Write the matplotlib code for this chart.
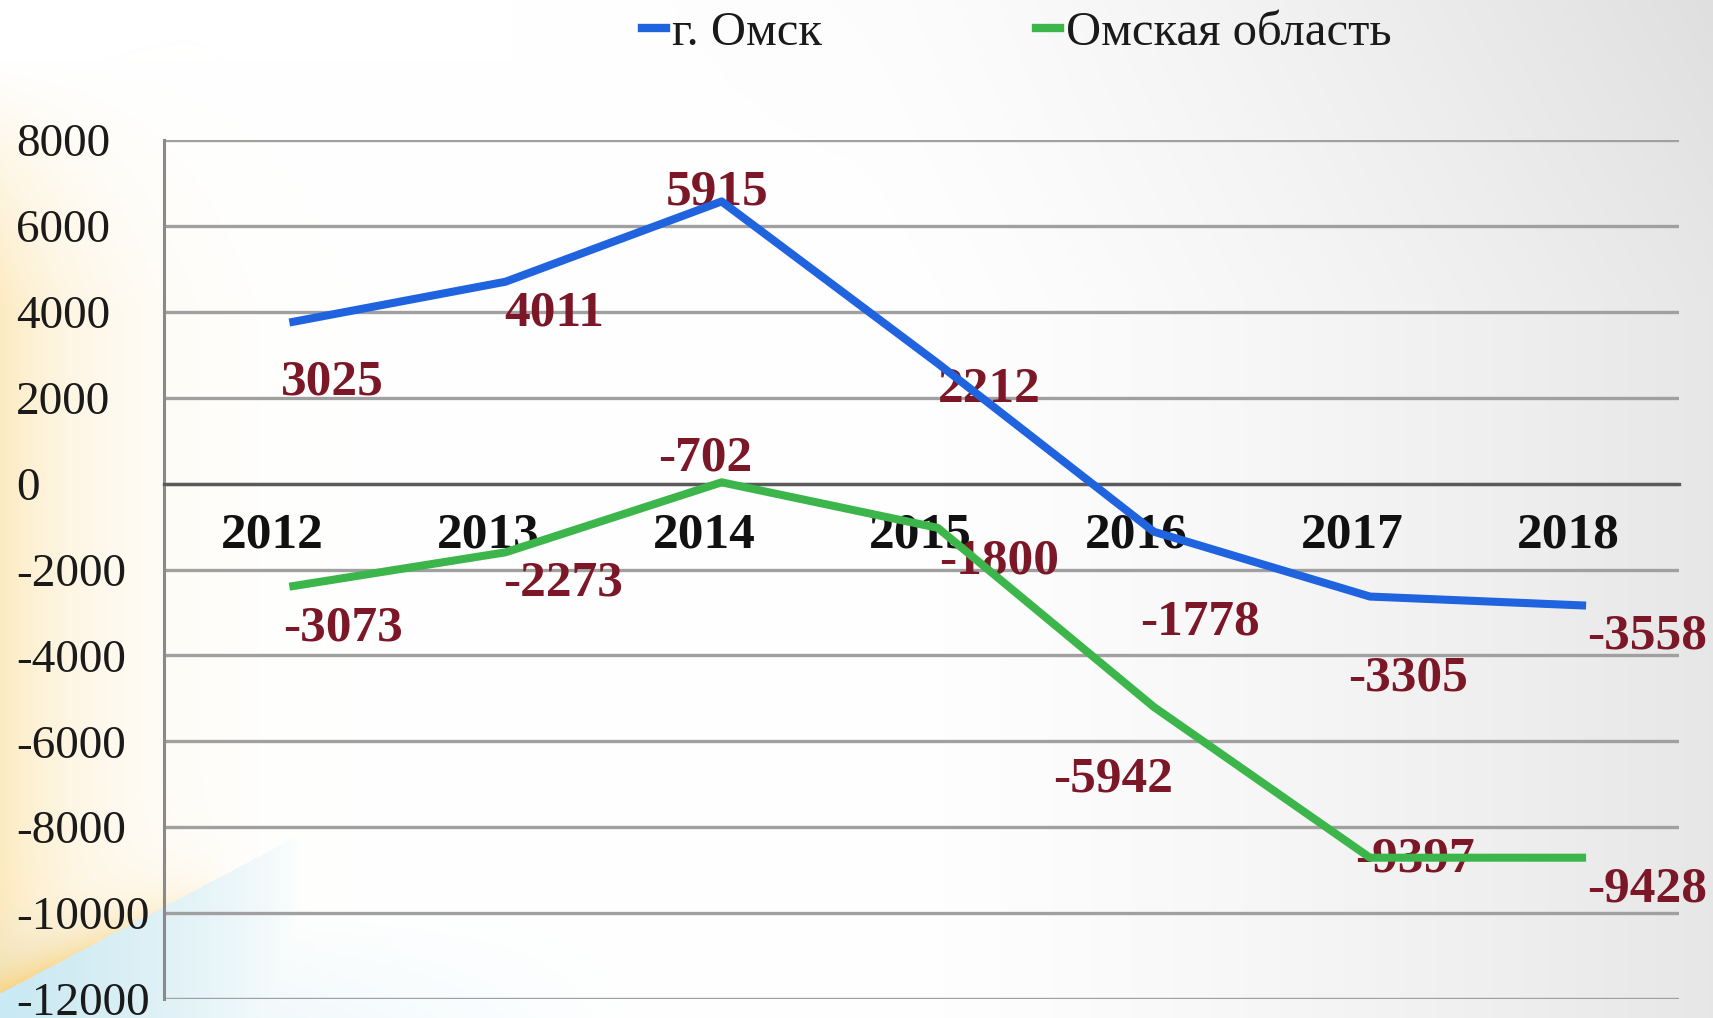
import numpy as np
import matplotlib
matplotlib.use('Agg')
import matplotlib.pyplot as plt
from matplotlib.lines import Line2D
import matplotlib.transforms as mtransforms

plt.rcParams['font.family'] = ['Liberation Serif', 'DejaVu Serif']
plt.rcParams['axes.unicode_minus'] = False

# ---------------- data ----------------
years = ['2012', '2013', '2014', '2015', '2016', '2017', '2018']
series_names = ['г. Омск', 'Омская область']
# plotted line values (as drawn in the picture)
omsk_line = [3750, 4700, 6570, 2800, -1120, -2630, -2840]
oblast_line = [-2400, -1600, 30, -1030, -5200, -8710, -8710]
# data label texts (as printed in the picture)
omsk_labels = ['3025', '4011', '5915', '2212', '-1778', '-3305', '-3558']
oblast_labels = ['-3073', '-2273', '-702', '-1800', '-5942', '-9397', '-9428']
y_ticks = [8000, 6000, 4000, 2000, 0, -2000, -4000, -6000, -8000, -10000, -12000]

# ---------------- layout / style ----------------
W, H, DPI = 1713, 1018, 100
BLUE = '#1f63de'
GREEN = '#3cb64b'
LABEL_RED = '#7b1726'
omsk_offsets = [(30.7, -43.0), (35.4, -22.8), (-3.1, 6.3), (37.0, -18.9),
                (33.0, -65.3), (27.5, -59.0), (44.0, -22.0)]
oblast_offsets = [(38.5, -30.3), (41.7, -22.8), (-11.8, 17.3), (44.0, -24.4),
                  (-29.1, -51.9), (32.3, -1.6), (44.0, -22.8)]

fig = plt.figure(figsize=(W / DPI, H / DPI), dpi=DPI)

# ---------------- decorative background ----------------
yy, xx = np.mgrid[0:H, 0:W].astype(float)
img = np.ones((H, W, 3))
# light grey towards the right
g = 1 - 0.095 * np.clip((xx - 0.5 * W) / (0.5 * W), 0, 1) ** 1.4
g -= 0.03 * np.clip(1 - yy / 300, 0, 1) * np.clip((xx - 0.3 * W) / (0.7 * W), 0, 1)
img *= g[..., None]
# warm glow on the left
warm = np.array([252, 226, 168]) / 255
vf = np.clip((yy - 60) / 250, 0, 1)
a_w = 0.72 * np.exp(-xx / 85) * vf
img = img * (1 - a_w[..., None]) + warm * a_w[..., None]
# blue corner bottom-left
yb = 993 - 0.53 * xx
inside = (yy > yb)
blue_bg = np.array([198, 233, 248]) / 255
a_b = np.where(inside, np.clip(1 - xx / 300, 0, 1) ** 0.7 * 0.95, 0.0)
# faint blue along the bottom edge
a_b2 = 0.4 * np.clip((yy - 900) / 118, 0, 1) * np.clip(1 - xx / 650, 0, 1)
a_b = np.maximum(a_b, a_b2)
img = img * (1 - a_b[..., None]) + blue_bg * a_b[..., None]
# orange stripe along the boundary
stripe_c = np.array([253, 208, 115]) / 255
d = yb - yy
a_s = np.where(d > 0, np.exp(-d / 24), 0) * np.clip(1 - xx / 230, 0, 1) * 0.85
img = img * (1 - a_s[..., None]) + stripe_c * a_s[..., None]

bg = fig.add_axes([0, 0, 1, 1], zorder=-10)
bg.imshow(np.clip(img, 0, 1), aspect='auto', extent=(0, 1, 0, 1))
bg.axis('off')

# ---------------- main axes ----------------
left, right, top, bottom = 164, 1679, 140, 999
ax = fig.add_axes([left / W, (H - bottom) / H, (right - left) / W, (bottom - top) / H])
ax.set_facecolor('none')

# spine placement first (it resets the ticks)
ax.spines['bottom'].set_position(('data', 0))
ax.spines['bottom'].set_color('#5a5a5a')
ax.spines['bottom'].set_linewidth(2.4)
ax.spines['left'].set_color('#8a8a8a')
ax.spines['left'].set_linewidth(2.2)
ax.spines['top'].set_visible(False)
ax.spines['right'].set_visible(False)

x = np.arange(len(years))
ax.plot(x, omsk_line, color=BLUE, lw=5.8, solid_joinstyle='round', solid_capstyle='butt', zorder=4)
ax.plot(x, oblast_line, color=GREEN, lw=5.8, solid_joinstyle='round', solid_capstyle='butt', zorder=4)

for xi, yi, txt, off in zip(x, omsk_line, omsk_labels, omsk_offsets):
    ax.annotate(txt, (xi, yi), xytext=off, textcoords='offset points', ha='center', va='center',
                fontsize=37, fontweight='bold', color=LABEL_RED, zorder=3, annotation_clip=False)
for xi, yi, txt, off in zip(x, oblast_line, oblast_labels, oblast_offsets):
    ax.annotate(txt, (xi, yi), xytext=off, textcoords='offset points', ha='center', va='center',
                fontsize=37, fontweight='bold', color=LABEL_RED, zorder=3, annotation_clip=False)

ax.set_xlim(-0.58, 6.43)
ax.set_ylim(-12000, 8000)
ax.set_yticks(y_ticks)
ax.set_yticklabels([str(v) for v in y_ticks])
ax.tick_params(axis='y', length=0, pad=106.6, labelsize=34, labelcolor='#1a1a1a')
for lab in ax.get_yticklabels():
    lab.set_horizontalalignment('left')

ax.set_xticks(x)
ax.set_xticklabels(years)
ax.tick_params(axis='x', length=0, pad=21, labelsize=37, labelcolor='#111111')
shift = mtransforms.ScaledTranslation(-12.6 / 72, 0, fig.dpi_scale_trans)
for lab in ax.get_xticklabels():
    lab.set_fontweight('bold')
    lab.set_transform(lab.get_transform() + shift)

ax.yaxis.grid(True, color='#a0a0a0', lw=2.4, zorder=1)
ax.set_axisbelow(True)

handles = [Line2D([], [], color=BLUE, lw=6), Line2D([], [], color=GREEN, lw=6)]
fig.legend(handles, series_names, loc='center', bbox_to_anchor=(0.5937, 0.9676), ncol=2,
           frameon=False, fontsize=35, handlelength=0.5, handletextpad=0.12,
           columnspacing=4.4, borderpad=0, labelcolor='#1a1a1a')

fig.savefig('out.png', dpi=DPI)
